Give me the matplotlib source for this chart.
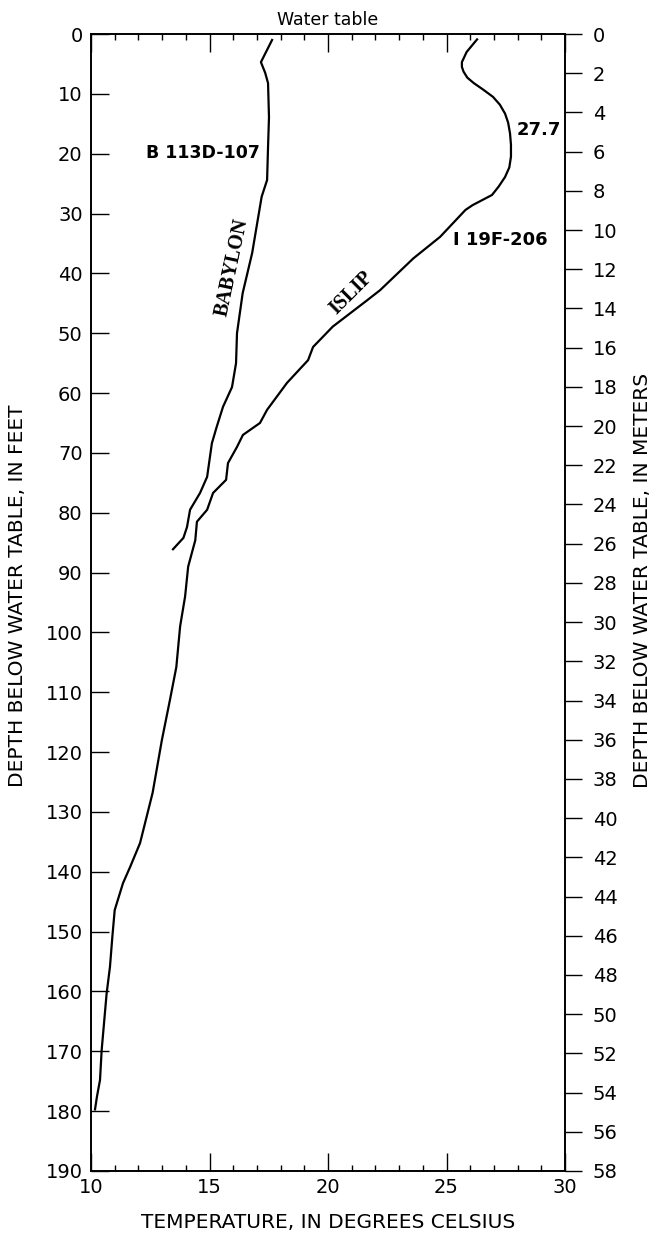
import numpy as np
import matplotlib
matplotlib.use('Agg')
import matplotlib.pyplot as plt

plt.rcParams['font.family'] = ['DejaVu Sans']

# Temperature profiles below the water table (depth in feet, temperature in deg C)
babylon_depth = [1.0, 4.7, 6.5, 8.2, 13.9, 18.9, 24.4, 27.2, 36.6, 43.3, 50.0, 55.0,
                 59.0, 62.3, 65.7, 68.4, 74.0, 76.7, 79.5, 82.4, 84.2, 86.1]
babylon_temp = [17.64, 17.17, 17.35, 17.47, 17.51, 17.47, 17.43, 17.2, 16.8, 16.4, 16.16, 16.12,
                15.95, 15.57, 15.3, 15.1, 14.9, 14.6, 14.18, 14.05, 13.9, 13.46]

islip_depth = [0.9, 3.0, 4.7, 5.5, 6.3, 7.3, 8.2, 9.3, 10.5, 11.8, 13.3, 14.8, 16.6,
               18.5, 20.5, 22.3, 23.9, 25.5, 26.9, 28.6, 29.4,
               33.9, 37.5, 42.8, 44.5, 48.9, 52.3, 54.5, 58.3, 62.8, 65.0, 67.0,
               69.0, 71.7, 74.5, 76.7, 79.5, 81.5, 84.6, 89.0, 94.0, 99.0, 105.8,
               111.3, 118.0, 126.8, 135.2, 139.2, 141.9, 146.4, 150.9, 155.9,
               160.3, 169.8, 174.8, 177.6, 179.7]
islip_temp = [26.29, 25.85, 25.65, 25.65, 25.72, 25.88, 26.15, 26.55, 26.96, 27.25, 27.47, 27.6, 27.68,
              27.72, 27.72, 27.65, 27.47, 27.2, 26.92, 26.1, 25.8,
              24.73, 23.6, 22.2, 21.65, 20.2, 19.37, 19.16, 18.27, 17.43, 17.13, 16.41,
              16.16, 15.78, 15.7, 15.15, 14.9, 14.47, 14.4, 14.1, 13.97, 13.76, 13.6,
              13.33, 12.99, 12.6, 12.07, 11.65, 11.35, 11.0, 10.9, 10.8,
              10.66, 10.45, 10.38, 10.25, 10.17]

max_temp = 27.7

fig = plt.figure(figsize=(6.55, 12.33), dpi=100)
ax = fig.add_axes([91 / 655, 1 - 1171 / 1233, 474 / 655, 1137 / 1233])

ax.plot(babylon_temp, babylon_depth, color='black', lw=1.6)
ax.plot(islip_temp, islip_depth, color='black', lw=1.6)

ax.set_xlim(10, 30)
ax.set_ylim(190, 0)

ax.set_xticks(np.arange(10, 31, 5))
ax.set_xticks(np.arange(10, 31, 1), minor=True)
ax.set_yticks(np.arange(0, 191, 10))
ax.tick_params(axis='x', which='major', direction='in', length=13, width=1,
               top=True, bottom=True, labelsize=14, pad=5)
ax.tick_params(axis='x', which='minor', direction='in', length=4.5, width=1,
               top=True, bottom=True)
ax.tick_params(axis='y', which='major', direction='in', length=13, width=1,
               left=True, right=True, labelright=False, labelsize=14, pad=6)
for sp in ax.spines.values():
    sp.set_linewidth(1.2)

# metric scale on the right
ax2 = ax.twinx()
ax2.set_ylim(58, 0)
ax2.set_yticks(np.arange(0, 59, 2))
ax2.tick_params(direction='out', length=12, width=1, labelsize=14, pad=8)
for sp in ax2.spines.values():
    sp.set_linewidth(1.2)

# annotations
ax.text(17.13, 19.9, 'B 113D-107', ha='right', va='center', fontsize=12.5, fontweight='bold')
ax.text(27.95, 16.0, str(max_temp), ha='left', va='center', fontsize=13, fontweight='bold')
ax.text(25.27, 34.4, 'I 19F-206', ha='left', va='center', fontsize=13, fontweight='bold')
ax.text(15.95, 39.0, 'BABYLON', rotation=78, ha='center', va='center', fontsize=14.5,
        fontweight='bold', family='Liberation Serif')
ax.text(21.0, 43.3, 'ISLIP', rotation=45, ha='center', va='center', fontsize=14.5,
        fontweight='bold', family='Liberation Serif')

fig.text(328 / 655, 1 - 20 / 1233, 'Water table', ha='center', va='center', fontsize=12.5)
fig.text(328 / 655, 1 - 1222 / 1233, 'TEMPERATURE, IN DEGREES CELSIUS', ha='center',
         va='center', fontsize=14.5)
fig.text(18 / 655, 1 - 596 / 1233, 'DEPTH BELOW WATER TABLE, IN FEET', rotation=90,
         ha='center', va='center', fontsize=14.5)
fig.text(642 / 655, 1 - 580 / 1233, 'DEPTH BELOW WATER TABLE, IN METERS', rotation=90,
         ha='center', va='center', fontsize=14.5)

fig.savefig('out.png', dpi=100)
